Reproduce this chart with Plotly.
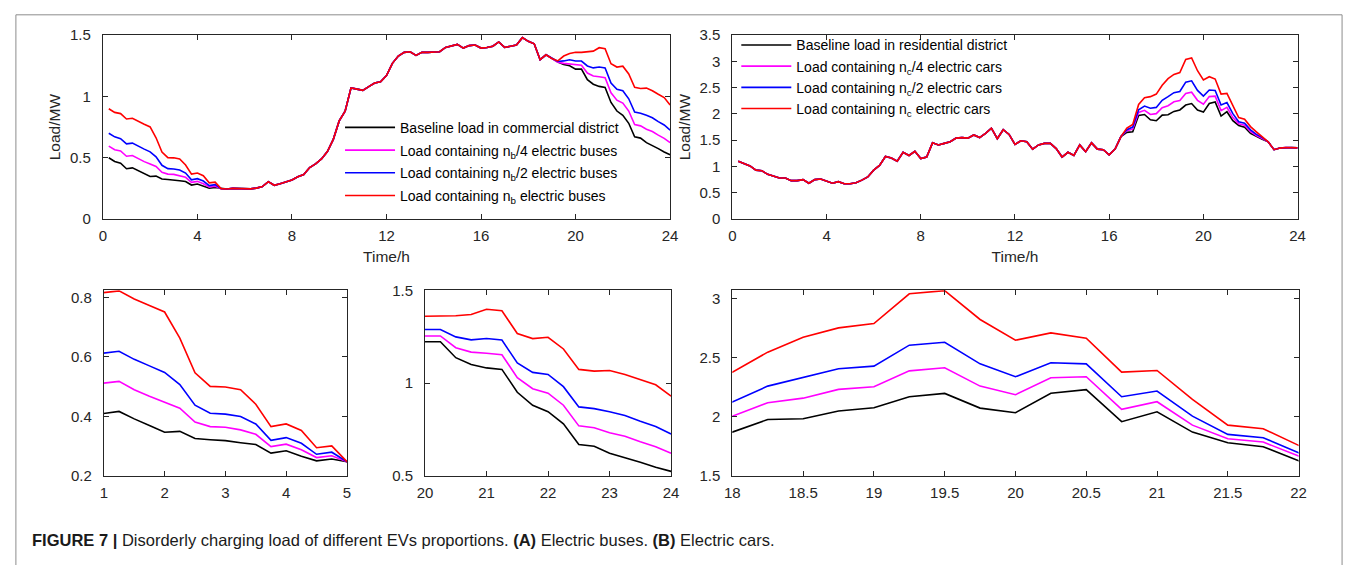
import plotly.graph_objects as go

W, H = 1356, 565

# ---------------- data ----------------
hours = [i / 4 for i in range(1, 97)]  # 0.25 ... 24.0 (15-min samples)

# Commercial district (electric buses)
bus_mid_shared = [0.245, 0.250, 0.247, 0.245, 0.246, 0.252, 0.265, 0.305, 0.275, 0.287, 0.302, 0.318,
                  0.345, 0.362, 0.42, 0.45, 0.49, 0.55, 0.65, 0.80, 0.88, 1.07, 1.06, 1.05,
                  1.08, 1.11, 1.12, 1.17, 1.27, 1.33, 1.36, 1.365, 1.335, 1.36, 1.36, 1.36,
                  1.365, 1.40, 1.41, 1.425, 1.395, 1.415, 1.42, 1.395, 1.40, 1.41, 1.445, 1.40,
                  1.41, 1.42, 1.48, 1.45, 1.43, 1.30, 1.34, 1.31]
bus_base_morning = [0.50, 0.47, 0.455, 0.410, 0.417, 0.392, 0.370, 0.347, 0.350, 0.326,
                    0.322, 0.319, 0.312, 0.306, 0.277, 0.285, 0.266, 0.251, 0.257, 0.248]
bus_q_morning = [0.595, 0.565, 0.555, 0.512, 0.518, 0.490, 0.468, 0.449, 0.428, 0.381,
                 0.366, 0.364, 0.355, 0.340, 0.299, 0.307, 0.288, 0.262, 0.268, 0.248]
bus_h_morning = [0.70, 0.67, 0.655, 0.613, 0.619, 0.592, 0.570, 0.548, 0.507, 0.438,
                 0.411, 0.408, 0.400, 0.375, 0.320, 0.329, 0.310, 0.273, 0.280, 0.248]
bus_f_morning = [0.90, 0.87, 0.86, 0.816, 0.822, 0.795, 0.773, 0.751, 0.663, 0.547,
                 0.501, 0.499, 0.490, 0.441, 0.366, 0.375, 0.353, 0.295, 0.301, 0.248]
bus_base_evening = [1.28, 1.26, 1.25, 1.223, 1.223, 1.137, 1.10, 1.082, 1.074, 0.951,
                    0.881, 0.846, 0.781, 0.67, 0.66, 0.623, 0.60, 0.574, 0.547, 0.525]
bus_q_evening = [1.28, 1.27, 1.265, 1.254, 1.254, 1.191, 1.167, 1.161, 1.153, 1.03,
                 0.97, 0.946, 0.881, 0.77, 0.76, 0.733, 0.714, 0.684, 0.658, 0.623]
bus_h_evening = [1.285, 1.29, 1.30, 1.289, 1.289, 1.249, 1.233, 1.24, 1.232, 1.109,
                 1.058, 1.047, 0.981, 0.872, 0.863, 0.846, 0.826, 0.795, 0.767, 0.726]
bus_f_evening = [1.29, 1.33, 1.35, 1.36, 1.36, 1.363, 1.37, 1.398, 1.39, 1.267,
                 1.24, 1.247, 1.184, 1.074, 1.065, 1.068, 1.047, 1.018, 0.991, 0.93]

# Residential district (electric cars)
car_day_shared = [1.10, 1.06, 1.01, 0.93, 0.92, 0.85, 0.81, 0.78, 0.78, 0.73, 0.73, 0.75,
                  0.68, 0.75, 0.76, 0.72, 0.68, 0.71, 0.67, 0.67, 0.69, 0.74, 0.80, 0.93,
                  1.02, 1.19, 1.16, 1.10, 1.27, 1.21, 1.29, 1.15, 1.18, 1.45, 1.41, 1.44,
                  1.47, 1.54, 1.55, 1.54, 1.60, 1.55, 1.63, 1.73, 1.53, 1.70, 1.61, 1.42,
                  1.49, 1.47, 1.33, 1.41, 1.44, 1.44, 1.34, 1.18, 1.27, 1.21, 1.41, 1.28,
                  1.45, 1.33, 1.32, 1.22, 1.33, 1.57]
car_base_peak = [1.65, 1.66, 1.97, 1.99, 1.89, 1.871, 1.978, 1.984, 2.049, 2.077, 2.17, 2.198,
                 2.074, 2.035, 2.20, 2.23, 1.959, 2.043, 1.871, 1.781, 1.748, 1.629, 1.57, 1.52]
car_q_peak = [1.68, 1.71, 2.03, 2.07, 1.99, 2.006, 2.119, 2.158, 2.232, 2.254, 2.389, 2.415,
              2.26, 2.187, 2.33, 2.339, 2.063, 2.128, 1.93, 1.815, 1.787, 1.669, 1.59, 1.53]
car_h_peak = [1.70, 1.75, 2.08, 2.15, 2.11, 2.125, 2.26, 2.33, 2.406, 2.429, 2.606, 2.631,
              2.448, 2.339, 2.457, 2.448, 2.17, 2.218, 2.006, 1.852, 1.824, 1.697, 1.61, 1.55]
car_f_peak = [1.73, 1.80, 2.18, 2.31, 2.33, 2.378, 2.547, 2.673, 2.752, 2.789, 3.04, 3.067,
              2.823, 2.648, 2.71, 2.665, 2.378, 2.392, 2.147, 1.93, 1.90, 1.759, 1.66, 1.57]
car_night_shared = [1.47, 1.32, 1.35, 1.36, 1.36, 1.355]

bus_series = {
    "Baseline load in commercial district": bus_base_morning + bus_mid_shared + bus_base_evening,
    "Load containing n<sub>b</sub>/4 electric buses": bus_q_morning + bus_mid_shared + bus_q_evening,
    "Load containing n<sub>b</sub>/2 electric buses": bus_h_morning + bus_mid_shared + bus_h_evening,
    "Load containing n<sub>b</sub> electric buses": bus_f_morning + bus_mid_shared + bus_f_evening,
}
car_series = {
    "Baseline load in residential district": car_day_shared + car_base_peak + car_night_shared,
    "Load containing n<sub>c</sub>/4 electric cars": car_day_shared + car_q_peak + car_night_shared,
    "Load containing n<sub>c</sub>/2 electric cars": car_day_shared + car_h_peak + car_night_shared,
    "Load containing n<sub>c</sub> electric cars": car_day_shared + car_f_peak + car_night_shared,
}
colors = ["#000000", "#FF00FF", "#0000FF", "#FF0000"]

caption = ("<b>FIGURE 7 |</b> Disorderly charging load of different EVs proportions. "
           "<b>(A)</b> Electric buses. <b>(B)</b> Electric cars.")

# ---------------- layout helpers ----------------
FONT = "Liberation Sans, Arial, sans-serif"
AX = "#262626"


def px_x(a, b):
    return [a / W, b / W]


def px_y(top, bottom):
    return [1 - bottom / H, 1 - top / H]


def axis(domain, rng, ticks, anchor, is_x, title=None, standoff=None):
    d = dict(domain=domain, range=rng, tickvals=ticks, ticks="inside", ticklen=5,
             tickwidth=1, tickcolor=AX, showline=True, linecolor=AX, linewidth=1,
             mirror="ticks", showgrid=False, zeroline=False, anchor=anchor,
             ticklabelstandoff=3 if is_x else 8,
             tickfont=dict(family=FONT, size=15, color=AX))
    if title:
        d["title"] = dict(text=title, font=dict(family=FONT, size=15.5, color=AX),
                          standoff=standoff)
    return d


fig = go.Figure()

panels = [
    # (series, xaxis, yaxis, legend)
    (bus_series, "x", "y", "legend"),
    (car_series, "x2", "y2", "legend2"),
    (bus_series, "x3", "y3", None),
    (bus_series, "x4", "y4", None),
    (car_series, "x5", "y5", None),
]
for series, xa, ya, leg in panels:
    for i, ((name, vals), col) in enumerate(zip(series.items(), colors)):
        tr = dict(x=hours, y=vals, mode="lines", name=name, xaxis=xa, yaxis=ya,
                  line=dict(color=col, width=1.6), hoverinfo="skip")
        if leg:
            tr["legend"] = leg
            tr["legendgroup"] = f"{leg}_{i}"
            tr["showlegend"] = True
        else:
            tr["showlegend"] = False
        fig.add_trace(go.Scatter(**tr))

top_y = px_y(27, 216.5)
bot_y = px_y(290, 481.5)

leg_common = dict(bgcolor="rgba(0,0,0,0)", borderwidth=0, itemwidth=50,
                  font=dict(family=FONT, size=14, color="#000000"),
                  xanchor="left", yanchor="top", itemclick=False)

fig.update_layout(
    width=W, height=H, margin=dict(l=0, r=0, t=0, b=0),
    paper_bgcolor="white", plot_bgcolor="white",
    xaxis=axis(px_x(96, 670), [0, 24], [0, 4, 8, 12, 16, 20, 24], "y", True, "Time/h", 8),
    yaxis=axis(top_y, [0, 1.5], [0, 0.5, 1, 1.5], "x", False, "Load/MW", 5),
    xaxis2=axis(px_x(733, 1305), [0, 24], [0, 4, 8, 12, 16, 20, 24], "y2", True, "Time/h", 8),
    yaxis2=axis(top_y, [0, 3.5], [0, 0.5, 1, 1.5, 2, 2.5, 3, 3.5], "x2", False, "Load/MW", 5),
    xaxis3=axis(px_x(97, 343), [1, 5], [1, 2, 3, 4, 5], "y3", True),
    yaxis3=axis(bot_y, [0.2, 0.824], [0.2, 0.4, 0.6, 0.8], "x3", False),
    xaxis4=axis(px_x(422, 671), [20, 24], [20, 21, 22, 23, 24], "y4", True),
    yaxis4=axis(bot_y, [0.5, 1.5], [0.5, 1, 1.5], "x4", False),
    xaxis5=axis(px_x(733, 1306), [18, 22], [18, 18.5, 19, 19.5, 20, 20.5, 21, 21.5, 22], "y5", True),
    yaxis5=axis(bot_y, [1.5, 3.07], [1.5, 2, 2.5, 3], "x5", False),
    legend=dict(x=336 / W, y=1 - 106 / H, tracegroupgap=1.5, **leg_common),
    legend2=dict(x=737 / W, y=1 - 21 / H, tracegroupgap=0, **leg_common),
    annotations=[dict(text=caption, xref="paper", yref="paper", x=22 / W, y=1 - 547 / H,
                      xanchor="left", yanchor="middle", showarrow=False,
                      font=dict(family=FONT, size=16.5, color="#1a1a1a"))],
    shapes=[dict(type="rect", xref="paper", yref="paper", x0=8 / W, x1=1350 / W,
                 y0=-0.2, y1=1 - 6 / H, line=dict(color="#8c8c8c", width=1),
                 fillcolor="rgba(0,0,0,0)", layer="below")],
)

fig.write_html("out.html")
